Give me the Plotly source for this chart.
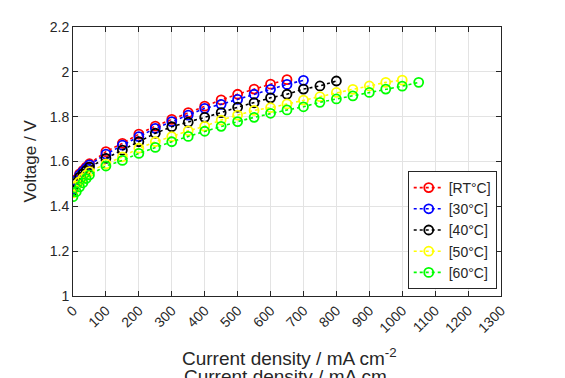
import plotly.graph_objects as go

current = [0, 10, 20, 30, 40, 50, 100, 150, 200, 250, 300, 350, 400, 450, 500,
           550, 600, 650, 700, 750, 800, 850, 900, 950, 1000, 1050]

v_rt = [1.48, 1.52, 1.545, 1.56, 1.575, 1.59, 1.644, 1.681, 1.722, 1.758, 1.788,
        1.818, 1.847, 1.875, 1.90, 1.923, 1.945, 1.965]
v_30 = [1.475, 1.515, 1.54, 1.555, 1.57, 1.585, 1.633, 1.673, 1.711, 1.748, 1.778,
        1.807, 1.837, 1.855, 1.877, 1.90, 1.922, 1.944, 1.962]
v_40 = [1.47, 1.505, 1.53, 1.545, 1.56, 1.575, 1.614, 1.651, 1.688, 1.726, 1.755,
        1.775, 1.797, 1.818, 1.842, 1.862, 1.884, 1.90, 1.923, 1.937, 1.959]
v_50 = [1.46, 1.49, 1.51, 1.525, 1.54, 1.555, 1.589, 1.621, 1.659, 1.688, 1.711,
        1.737, 1.757, 1.785, 1.807, 1.828, 1.84, 1.857, 1.874, 1.889, 1.908,
        1.922, 1.937, 1.953, 1.963]
v_60 = [1.443, 1.465, 1.487, 1.505, 1.524, 1.54, 1.58, 1.605, 1.636, 1.663, 1.688,
        1.712, 1.735, 1.757, 1.778, 1.797, 1.815, 1.83, 1.844, 1.864, 1.879,
        1.893, 1.908, 1.923, 1.936, 1.953]

names = ["[RT°C]", "[30°C]", "[40°C]", "[50°C]", "[60°C]"]
series = [v_rt, v_30, v_40, v_50, v_60]
colors = ["#ff0000", "#0000ff", "#000000", "#ffff00", "#00ff00"]

x_ticks = list(range(0, 1301, 100))
y_ticks = [1, 1.2, 1.4, 1.6, 1.8, 2, 2.2]
y_tick_labels = ["1", "1.2", "1.4", "1.6", "1.8", "2", "2.2"]

FONT = "Liberation Sans, Arial, Helvetica, sans-serif"

fig = go.Figure()
for name, vals, col in zip(names, series, colors):
    fig.add_trace(go.Scatter(
        x=current[:len(vals)], y=vals, name=name, mode="lines+markers",
        line=dict(color=col, width=1.6, dash="dot"),
        marker=dict(symbol="circle-open", size=9, color=col, line=dict(width=1.8, color=col)),
    ))

axis_common = dict(
    showgrid=True, gridcolor="#e3e3e3", gridwidth=1,
    showline=True, linecolor="#262626", linewidth=1,
    mirror="ticks", ticks="inside", ticklen=5, tickcolor="#262626",
    zeroline=False, tickfont=dict(family=FONT, size=14, color="#262626"),
    automargin=False,
)

fig.update_layout(
    width=557, height=370,
    margin=dict(l=65, r=64, t=19, b=82),
    paper_bgcolor="white", plot_bgcolor="white",
    font=dict(family=FONT, color="#262626"),
    xaxis=dict(range=[0, 1300], tickvals=x_ticks, ticktext=[str(t) for t in x_ticks],
               tickangle=-45, **axis_common),
    yaxis=dict(range=[1, 2.2], tickvals=y_ticks, ticktext=y_tick_labels, **axis_common),
    legend=dict(x=0.99, y=0.026, xanchor="right", yanchor="bottom",
                bgcolor="white", bordercolor="#262626", borderwidth=1,
                font=dict(family=FONT, size=14, color="#262626"),
                itemwidth=30, tracegroupgap=0),
    showlegend=True,
    annotations=[
        dict(text="Current density / mA cm<sup>-2</sup>", xref="paper", yref="paper",
             x=0.25, y=-0.175, xanchor="left", yanchor="top",
             showarrow=False, font=dict(family=FONT, size=19, color="#262626")),
        dict(text="Current density / mA cm", xref="paper", yref="paper",
             x=0.255, y=-0.175, xanchor="left", yanchor="top", yshift=-21,
             showarrow=False, font=dict(family=FONT, size=19, color="#262626")),
        dict(text="Voltage / V", xref="paper", yref="paper", x=0, y=0.5,
             xanchor="center", yanchor="middle", xshift=-43, textangle=-90,
             showarrow=False, font=dict(family=FONT, size=17, color="#262626")),
    ],
)

fig.write_html("out.html")
